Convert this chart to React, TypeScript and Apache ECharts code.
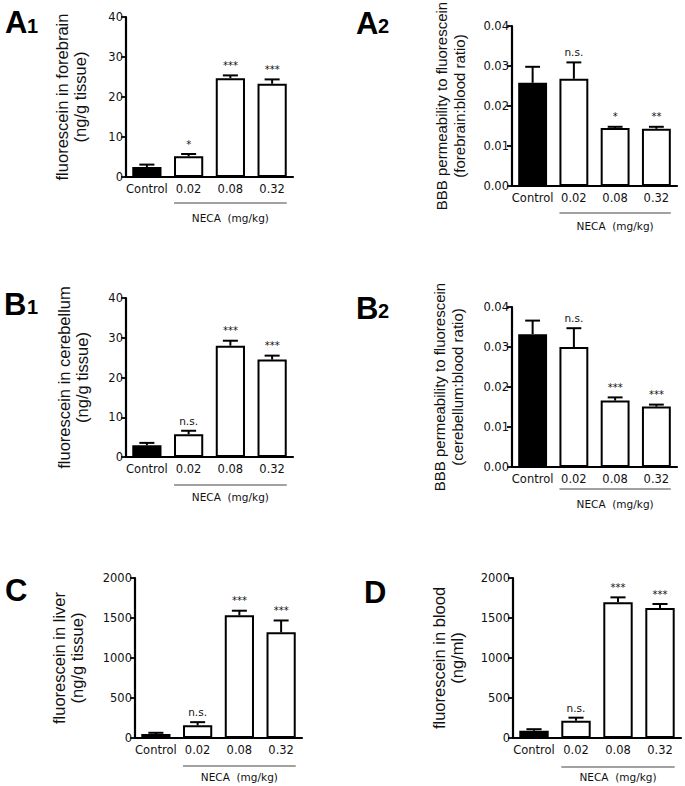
import React, { useEffect, useRef } from 'react';
import * as echarts from 'echarts';

const categories = ['Control', '0.02', '0.08', '0.32'];

const a1Mean = [2.5, 5.2, 24.7, 23.3];
const a1Err = [0.6, 0.55, 0.7, 1.1];
const a1Sig = ['', '*', '***', '***'];

const a2Mean = [0.0258, 0.0268, 0.0145, 0.0143];
const a2Err = [0.004, 0.0041, 0.0003, 0.0005];
const a2Sig = ['', 'n.s.', '*', '**'];

const b1Mean = [2.95, 5.75, 28.0, 24.5];
const b1Err = [0.6, 0.85, 1.25, 1.0];
const b1Sig = ['', 'n.s.', '***', '***'];

const b2Mean = [0.0332, 0.03, 0.0166, 0.0151];
const b2Err = [0.0034, 0.0047, 0.0008, 0.0005];
const b2Sig = ['', 'n.s.', '***', '***'];

const cMean = [50, 158, 1533, 1321];
const cErr = [15, 40, 58, 148];
const cSig = ['', 'n.s.', '***', '***'];

const dMean = [92, 217, 1696, 1625];
const dErr = [18, 37, 62, 50];
const dSig = ['', 'n.s.', '***', '***'];

const yTicksSmall = { max: 40, interval: 10, decimals: 0 };
const yTicksRatio = { max: 0.04, interval: 0.01, decimals: 2 };
const yTicksLarge = { max: 2000, interval: 500, decimals: 0 };

const groupLabel = 'NECA  (mg/kg)';

const panels = [
  { letter: 'A', sub: '1', mean: a1Mean, err: a1Err, sig: a1Sig, ticks: yTicksSmall,
    name: 'fluorescein in forebrain\n(ng/g tissue)', nameSize: 16.5,
    grid: { left: 126, top: 17, width: 167, height: 160 }, nameGap: 37,
    lx: 5, ly: 22.5, sx: 27, sy: 25.5, lineOff: 26, textOff: 15 },
  { letter: 'A', sub: '2', mean: a2Mean, err: a2Err, sig: a2Sig, ticks: yTicksRatio,
    name: 'BBB permeability to fluorescein\n(forebrain:blood ratio)', nameSize: 15,
    grid: { left: 512, top: 26, width: 165, height: 160 }, nameGap: 44,
    lx: 356, ly: 23, sx: 378, sy: 26, lineOff: 27, textOff: 13 },
  { letter: 'B', sub: '1', mean: b1Mean, err: b1Err, sig: b1Sig, ticks: yTicksSmall,
    name: 'fluorescein in cerebellum\n(ng/g tissue)', nameSize: 16.5,
    grid: { left: 126, top: 298, width: 167, height: 159 }, nameGap: 35,
    lx: 4, ly: 304, sx: 27, sy: 307, lineOff: 28, textOff: 12 },
  { letter: 'B', sub: '2', mean: b2Mean, err: b2Err, sig: b2Sig, ticks: yTicksRatio,
    name: 'BBB permeability to fluorescein\n(cerebellum:blood ratio)', nameSize: 15,
    grid: { left: 512, top: 307, width: 165, height: 160 }, nameGap: 46,
    lx: 356, ly: 308, sx: 378, sy: 311, lineOff: 22, textOff: 15 },
  { letter: 'C', sub: '', mean: cMean, err: cErr, sig: cSig, ticks: yTicksLarge,
    name: 'fluorescein in liver\n(ng/g tissue)', nameSize: 16.5,
    grid: { left: 135, top: 578, width: 167, height: 160 }, nameGap: 49,
    lx: 5, ly: 590, sx: 0, sy: 0, lineOff: 28, textOff: 11 },
  { letter: 'D', sub: '', mean: dMean, err: dErr, sig: dSig, ticks: yTicksLarge,
    name: 'fluorescein in blood\n(ng/ml)', nameSize: 16.5,
    grid: { left: 513, top: 578, width: 168, height: 160 }, nameGap: 47,
    lx: 364, ly: 592, sx: 0, sy: 0, lineOff: 29, textOff: 10 },
];

const tickFont = 'DejaVu Sans';
const titleFont = 'Liberation Sans';

export default function App() {
  const ref = useRef<HTMLDivElement>(null);
  useEffect(() => {
    if (!ref.current) return;
    const chart = echarts.init(ref.current, undefined, { renderer: 'svg' });
    const grid: any[] = [];
    const xAxis: any[] = [];
    const yAxis: any[] = [];
    const series: any[] = [];
    panels.forEach((p, i) => {
      grid.push({ ...p.grid, containLabel: false, outerBoundsMode: 'none' });
      xAxis.push({
        type: 'category', gridIndex: i, data: categories,
        axisLine: { lineStyle: { color: '#000', width: 2.2 } },
        axisTick: { alignWithLabel: true, length: 4, lineStyle: { color: '#000', width: 1.8 } },
        axisLabel: { color: '#111', fontFamily: tickFont, fontSize: 11.5, margin: 6, interval: 0 },
        splitLine: { show: false },
      });
      yAxis.push({
        type: 'value', gridIndex: i, min: 0, max: p.ticks.max, interval: p.ticks.interval,
        name: p.name, nameLocation: 'middle', nameRotate: 90, nameGap: p.nameGap,
        nameTextStyle: { fontFamily: titleFont, fontSize: p.nameSize, lineHeight: 18, color: '#111' },
        axisLine: { show: true, lineStyle: { color: '#000', width: 2.2 } },
        axisTick: { show: true, length: 5, lineStyle: { color: '#000', width: 1.8 } },
        axisLabel: {
          color: '#111', fontFamily: tickFont, fontSize: 11.5, margin: 3,
          formatter: (v: number) => v.toFixed(p.ticks.decimals),
        },
        splitLine: { show: false },
      });
      series.push({
        type: 'bar', xAxisIndex: i, yAxisIndex: i, barWidth: '70%',
        data: p.mean.map((m, j) => ({
          value: m,
          itemStyle: { color: j === 0 ? '#000' : '#fff', borderColor: '#000', borderWidth: 2 },
        })),
        z: 2,
      });
      const sig = p.sig;
      series.push({
        type: 'custom', xAxisIndex: i, yAxisIndex: i, z: 3,
        data: p.mean.map((m, j) => [j, m, m + p.err[j]]),
        renderItem: (params: any, api: any) => {
          const x = api.value(0);
          const base = api.coord([x, api.value(1)]);
          const top = api.coord([x, api.value(2)]);
          const half = api.size([1, 0])[0] * 0.18;
          const children: any[] = [
            { type: 'line', shape: { x1: base[0], y1: base[1], x2: top[0], y2: top[1] }, style: { stroke: '#000', lineWidth: 2 } },
            { type: 'line', shape: { x1: top[0] - half, y1: top[1], x2: top[0] + half, y2: top[1] }, style: { stroke: '#000', lineWidth: 2 } },
          ];
          const s = sig[params.dataIndex];
          if (s) {
            const isStar = s.indexOf('*') >= 0;
            children.push({
              type: 'text',
              style: {
                text: s, x: top[0], y: top[1] - 10, align: 'center', verticalAlign: 'middle',
                fontFamily: tickFont, fontSize: isStar ? 10 : 10.5, fill: '#111',
              },
            });
          }
          return { type: 'group', children };
        },
      });
    });

    chart.setOption({
      animation: false,
      backgroundColor: '#fff',
      grid, xAxis, yAxis, series,
    });

    const graphics: any[] = [];
    panels.forEach((p, i) => {
      const x02 = chart.convertToPixel({ xAxisIndex: i } as any, '0.02') as unknown as number;
      const x32 = chart.convertToPixel({ xAxisIndex: i } as any, '0.32') as unknown as number;
      const x08 = chart.convertToPixel({ xAxisIndex: i } as any, '0.08') as unknown as number;
      const y0 = chart.convertToPixel({ yAxisIndex: i } as any, 0) as unknown as number;
      const bw = (x08 - x02) * 0.7;
      const lineY = y0 + p.lineOff;
      graphics.push({
        type: 'line', id: 'br' + i,
        shape: { x1: x02 - bw / 2, y1: lineY, x2: x32 + bw / 2, y2: lineY },
        style: { stroke: '#444', lineWidth: 1 },
      });
      graphics.push({
        type: 'text', id: 'nt' + i,
        style: {
          text: groupLabel, x: (x02 - bw / 2 + x32 + bw / 2) / 2, y: lineY + p.textOff,
          align: 'center', verticalAlign: 'middle', fontFamily: tickFont, fontSize: 10.5, fill: '#111',
        },
      });
      graphics.push({
        type: 'text', id: 'lt' + i,
        style: {
          text: p.letter, x: p.lx, y: p.ly, align: 'left', verticalAlign: 'middle',
          fontFamily: titleFont, fontWeight: 'bold', fontSize: 31, fill: '#000',
        },
      });
      if (p.sub) {
        graphics.push({
          type: 'text', id: 'st' + i,
          style: {
            text: p.sub, x: p.sx, y: p.sy, align: 'left', verticalAlign: 'middle',
            fontFamily: titleFont, fontWeight: 'bold', fontSize: 20, fill: '#000',
          },
        });
      }
    });
    chart.setOption({ graphic: { elements: graphics } });

    return () => chart.dispose();
  }, []);
  return (
    <div
      ref={ref}
      style={{ position: 'absolute', left: 0, top: 0, width: 685, height: 786, background: '#fff' }}
    />
  );
}
